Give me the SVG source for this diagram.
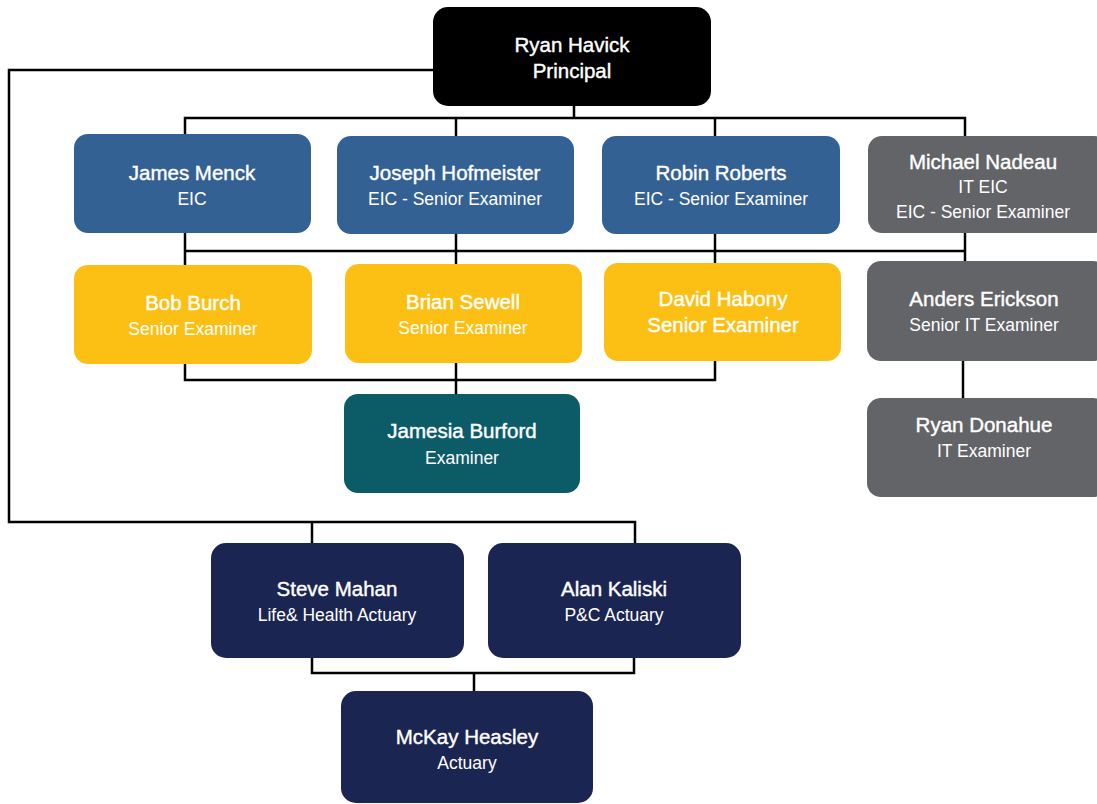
<svg xmlns="http://www.w3.org/2000/svg" width="1097" height="804" viewBox="0 0 1097 804">
<style>
.c{fill:none;stroke:#000;stroke-width:2.5}
.n{font-family:"Liberation Sans",Arial,sans-serif;fill:#fff;text-anchor:middle}
.t1{font-size:20.5px;stroke:#fff;stroke-width:0.4}
.t2{font-size:17.5px}
.blk{fill:#000}
.blu{fill:#346193}
.yel{fill:#FCBF14}
.tea{fill:#0C5C68}
.gry{fill:#636467}
.nav{fill:#1B2551}
</style>
<rect width="1097" height="804" fill="#fff"/>
<g id="connectors" class="c">
<path d="M433 70H9V522H635V543"/>
<path d="M312 522V543"/>
<path d="M574 106V118"/>
<path d="M185 134V118H965V136"/>
<path d="M456 118V136"/>
<path d="M715 118V136"/>
<path d="M185 233V265"/>
<path d="M456 234V264"/>
<path d="M715 234V263"/>
<path d="M965 233V261"/>
<path d="M185 251H965"/>
<path d="M185 364V380H715V361"/>
<path d="M456 363V394"/>
<path d="M963 361V398"/>
<path d="M312 658V673H634V658"/>
<path d="M474 673V691"/>
</g>
<g id="n-havick"><rect class="blk" x="433" y="7" width="278" height="99" rx="15"/><text class="n t1" x="572" y="52">Ryan Havick</text><text class="n t1" x="572" y="78">Principal</text></g>
<g id="n-menck"><rect class="blu" x="74" y="134" width="237" height="99" rx="14"/><text class="n t1" x="192" y="180">James Menck</text><text class="n t2" x="192" y="205">EIC</text></g>
<g id="n-hofmeister"><rect class="blu" x="337" y="136" width="237" height="98" rx="14"/><text class="n t1" x="455" y="180">Joseph Hofmeister</text><text class="n t2" x="455" y="205">EIC - Senior Examiner</text></g>
<g id="n-roberts"><rect class="blu" x="602" y="136" width="238" height="98" rx="14"/><text class="n t1" x="721" y="180">Robin Roberts</text><text class="n t2" x="721" y="205">EIC - Senior Examiner</text></g>
<g id="n-nadeau"><rect class="gry" x="868" y="136" width="240" height="97" rx="14"/><text class="n t1" x="983" y="169">Michael Nadeau</text><text class="n t2" x="983" y="193">IT EIC</text><text class="n t2" x="983" y="218">EIC - Senior Examiner</text></g>
<g id="n-burch"><rect class="yel" x="74" y="265" width="238" height="99" rx="14"/><text class="n t1" x="193" y="310">Bob Burch</text><text class="n t2" x="193" y="335">Senior Examiner</text></g>
<g id="n-sewell"><rect class="yel" x="345" y="264" width="237" height="99" rx="14"/><text class="n t1" x="463" y="309">Brian Sewell</text><text class="n t2" x="463" y="334">Senior Examiner</text></g>
<g id="n-habony"><rect class="yel" x="604" y="263" width="237" height="98" rx="14"/><text class="n t1" x="723" y="306">David Habony</text><text class="n t1" x="723" y="332">Senior Examiner</text></g>
<g id="n-erickson"><rect class="gry" x="867" y="261" width="240" height="100" rx="14"/><text class="n t1" x="984" y="306">Anders Erickson</text><text class="n t2" x="984" y="331">Senior IT Examiner</text></g>
<g id="n-burford"><rect class="tea" x="344" y="394" width="236" height="99" rx="14"/><text class="n t1" x="462" y="438">Jamesia Burford</text><text class="n t2" x="462" y="464">Examiner</text></g>
<g id="n-donahue"><rect class="gry" x="867" y="398" width="240" height="99" rx="14"/><text class="n t1" x="984" y="432">Ryan Donahue</text><text class="n t2" x="984" y="457">IT Examiner</text></g>
<g id="n-mahan"><rect class="nav" x="211" y="543" width="253" height="115" rx="15"/><text class="n t1" x="337" y="596">Steve Mahan</text><text class="n t2" x="337" y="621">Life&amp; Health Actuary</text></g>
<g id="n-kaliski"><rect class="nav" x="488" y="543" width="253" height="115" rx="15"/><text class="n t1" x="614" y="596">Alan Kaliski</text><text class="n t2" x="614" y="621">P&amp;C Actuary</text></g>
<g id="n-heasley"><rect class="nav" x="341" y="691" width="252" height="112" rx="15"/><text class="n t1" x="467" y="744">McKay Heasley</text><text class="n t2" x="467" y="769">Actuary</text></g>
</svg>
